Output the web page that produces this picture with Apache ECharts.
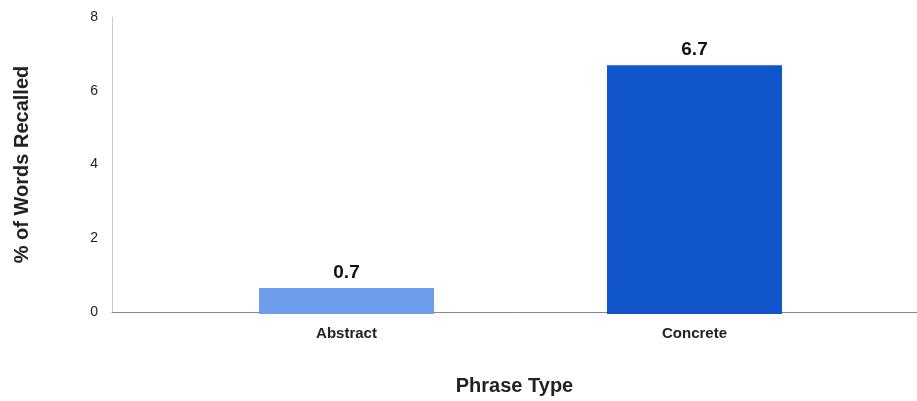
<!DOCTYPE html>
<html>
<head>
<meta charset="utf-8">
<script src="https://cdn.jsdelivr.net/npm/echarts@6/dist/echarts.min.js"></script>
<style>html,body{margin:0;padding:0;background:#fff}#c{width:917px;height:401px}</style>
</head>
<body>
<div id="c"></div>
<script>
const categories = ["Abstract", "Concrete"];
const values = [0.7, 6.7];
const barColors = ["#6d9eeb", "#1155cc"];
const yTicks = [0, 2, 4, 6, 8];
const yTitle = "% of Words Recalled";
const xTitle = "Phrase Type";

const chart = echarts.init(document.getElementById('c'), null, {renderer: 'canvas'});
const font = 'Liberation Sans, Arial, sans-serif';
chart.setOption({
  animation: false,
  textStyle: {fontFamily: font},
  grid: [
    {left: 112, right: 0, top: 17, bottom: 87},
    {left: 172.5, right: 48.5, top: 17, bottom: 87}
  ],
  xAxis: [
    {gridIndex: 0, type: 'category', data: [''], axisLine: {lineStyle: {color: '#888', width: 1}},
     axisTick: {show: false}, axisLabel: {show: false},
     name: xTitle, nameLocation: 'middle', nameGap: 64,
     nameTextStyle: {fontFamily: font, fontSize: 20, fontWeight: 'bold', color: '#222'}},
    {gridIndex: 1, type: 'category', data: categories, axisLine: {show: false}, axisTick: {show: false},
     axisLabel: {margin: 12, fontFamily: font, fontSize: 15, fontWeight: 'bold', color: '#222'}}
  ],
  yAxis: [
    {gridIndex: 0, type: 'value', min: yTicks[0], max: yTicks[yTicks.length - 1], interval: 2,
     axisLine: {show: true, lineStyle: {color: '#c8c8c8'}}, axisTick: {show: false},
     splitLine: {show: false},
     axisLabel: {margin: 14, fontFamily: font, fontSize: 14, color: '#222'},
     name: yTitle, nameLocation: 'middle', nameGap: 80, nameRotate: 90,
     nameTextStyle: {fontFamily: font, fontSize: 20, fontWeight: 'bold', color: '#222'}},
    {gridIndex: 1, type: 'value', min: yTicks[0], max: yTicks[yTicks.length - 1], interval: 2, show: false}
  ],
  series: [{
    type: 'bar', xAxisIndex: 1, yAxisIndex: 1, barWidth: 175,
    data: values.map((v, i) => ({value: v, itemStyle: {color: barColors[i]}})),
    label: {show: true, position: 'top', distance: 6, fontFamily: font, fontSize: 19, fontWeight: 'bold', color: '#111'}
  }]
});
</script>
</body>
</html>
